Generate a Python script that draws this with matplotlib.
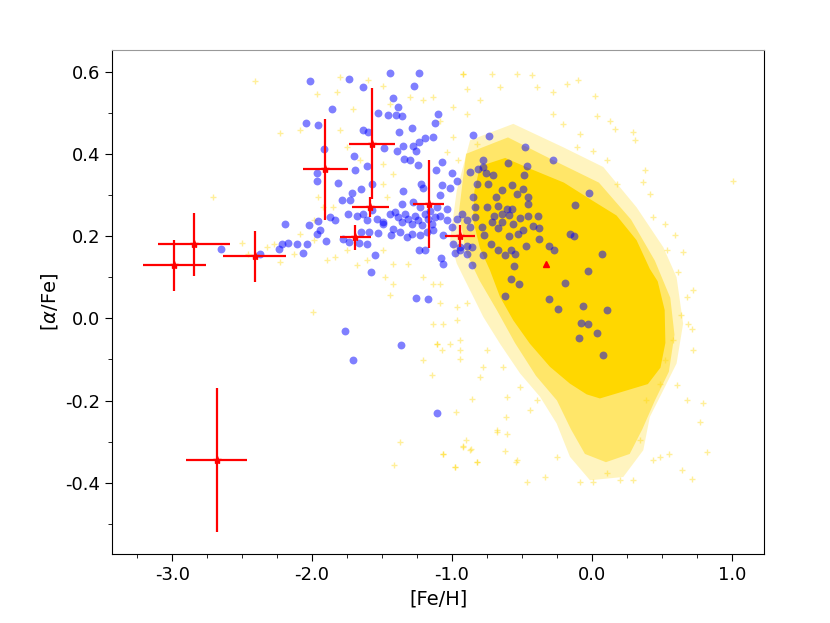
import matplotlib
matplotlib.use("Agg")
import matplotlib.pyplot as plt
import numpy as np

plt.rcParams['axes.unicode_minus'] = False

# red stars with error bars
red_feh = [-2.986, -2.843, -2.41, -1.905, -1.574, -1.583, -1.69, -1.167, -0.94, -2.681]
red_afe = [0.129, 0.180, 0.151, 0.362, 0.425, 0.271, 0.197, 0.278, 0.201, -0.345]
red_xerr = [0.225, 0.257, 0.224, 0.16, 0.163, 0.13, 0.112, 0.11, 0.107, 0.218]
red_yerr = [0.062, 0.077, 0.062, 0.122, 0.134, 0.025, 0.031, 0.107, 0.027, 0.175]

# single red triangle
tri_feh = [-0.329]
tri_afe = [0.131]

# blue sample
blue_feh = [
    -2.014, -1.733, -1.443, -1.233, -1.638, -1.269, -1.419, -1.388, -1.860, -1.526,
    -1.460, -1.400, -1.360, -1.098, -2.043, -1.957, -1.633, -1.598, -1.381, -1.288,
    -1.124, -1.193, -1.133, -1.233, -1.486, -1.395, -1.348, -1.276, -1.257, -1.074,
    -1.914, -1.698, -1.605, -1.690, -1.340, -1.300, -1.240, -1.002, -0.871, -1.964,
    -1.962, -1.812, -1.650, -1.569, -1.712, -1.729, -1.348, -1.224, -1.210, -1.086,
    -1.014, -0.848, -0.824,
    -1.788, -1.740, -1.681, -1.633, -1.610, -1.574, -1.538, -1.490, -1.443, -1.407,
    -1.383, -1.360, -1.336, -1.312, -1.288, -1.264, -1.240, -1.217, -1.193, -1.169,
    -1.145, -1.121, -1.086, -1.038, -1.002, -0.967, -0.931, -0.895, -0.871, -1.419,
    -1.371, -1.324, -1.288, -1.229, -1.181, -1.133, -1.062, -0.990, -0.943, -0.895,
    -0.860, -1.360, -1.276, -1.229, -1.157, -1.110, -1.038, -0.836, -0.836,
    -2.193, -2.019, -1.960, -1.967, -1.943, -1.900, -1.871, -1.836, -1.776, -1.733,
    -1.662, -1.610, -1.550, -1.579, -1.650, -1.590, -1.531, -1.495, -1.436, -2.371,
    -2.240, -2.217, -2.169, -2.105, -2.062, -2.033, -2.650, -1.257, -1.169, -1.764,
    -1.367, -1.233, -1.193, -1.081, -1.062, -0.979, -0.943, -1.707, -1.107,
    -0.852, -0.738, -0.476, -0.276, -0.019, -1.117, -0.967, -1.069, -0.781, -0.812,
    -0.776, -0.783, -0.769, -0.890, -0.860,
    -0.602, -0.467, -0.486, -0.757, -0.705, -0.745, -0.569, -0.495, -0.645, -0.533,
    -0.686, -0.455, -0.460, -0.752, -0.669, -0.610, -0.569, -0.700, -0.645, -0.593,
    -0.514, -0.457, -0.383, -0.717, -0.645, -0.562, -0.495, -0.419, -0.376, -0.669,
    -0.590, -0.526, -0.724, -0.379, -0.469, -0.669, -0.621, -0.581, -0.548, -0.776,
    -0.555, -0.579, -0.524, -0.621, -0.305, -0.271, -0.119, -0.155, -0.129, 0.069,
    -0.026, -0.190, -0.305, -0.240, -0.067, 0.110, -0.081, -0.026, 0.033, -0.095,
    0.081]
blue_afe = [
    0.577, 0.582, 0.597, 0.597, 0.562, 0.564, 0.535, 0.514, 0.509, 0.500,
    0.495, 0.495, 0.491, 0.497, 0.475, 0.469, 0.459, 0.453, 0.453, 0.463,
    0.474, 0.438, 0.442, 0.429, 0.414, 0.408, 0.420, 0.420, 0.408, 0.380,
    0.412, 0.394, 0.371, 0.361, 0.388, 0.384, 0.372, 0.354, 0.356, 0.353,
    0.335, 0.330, 0.315, 0.327, 0.305, 0.288, 0.309, 0.327, 0.317, 0.301,
    0.317, 0.295, 0.327,
    0.287, 0.254, 0.250, 0.254, 0.238, 0.264, 0.242, 0.234, 0.254, 0.258,
    0.246, 0.234, 0.254, 0.242, 0.230, 0.250, 0.238, 0.226, 0.254, 0.242,
    0.230, 0.246, 0.250, 0.238, 0.222, 0.242, 0.254, 0.238, 0.222, 0.218,
    0.210, 0.198, 0.206, 0.202, 0.210, 0.214, 0.202, 0.181, 0.165, 0.157,
    0.173, 0.279, 0.283, 0.271, 0.262, 0.271, 0.267, 0.271, 0.246,
    0.230, 0.228, 0.236, 0.206, 0.214, 0.187, 0.246, 0.238, 0.194, 0.186,
    0.183, 0.181, 0.153, 0.113, 0.210, 0.210, 0.207, 0.230, 0.202, 0.157,
    0.169, 0.181, 0.183, 0.180, 0.160, 0.181, 0.168, 0.050, 0.046, -0.031,
    -0.066, 0.167, 0.167, 0.147, 0.133, 0.160, 0.173, -0.102, -0.231,
    0.445, 0.443, 0.416, 0.386, 0.305, 0.360, 0.333, 0.324, 0.384, 0.362,
    0.369, 0.222, 0.203, 0.177, 0.129,
    0.377, 0.371, 0.348, 0.353, 0.349, 0.327, 0.324, 0.314, 0.313, 0.302,
    0.295, 0.295, 0.279, 0.271, 0.272, 0.267, 0.267, 0.250, 0.254, 0.252,
    0.244, 0.250, 0.248, 0.234, 0.234, 0.230, 0.214, 0.224, 0.220, 0.220,
    0.199, 0.206, 0.181, 0.192, 0.175, 0.167, 0.155, 0.165, 0.157, 0.155,
    0.126, 0.096, 0.083, 0.055, 0.177, 0.165, 0.276, 0.206, 0.199, 0.157,
    0.115, 0.085, 0.047, 0.023, 0.030, 0.021, -0.011, -0.015, -0.035, -0.047,
    -0.090]

# outlines of the yellow cloud: solid core, mid halo, outer halo
core_feh = [-0.80, -0.62, -0.45, -0.20, -0.014, 0.176, 0.319, 0.414, 0.47, 0.52,
            0.525, 0.49, 0.40, 0.224, 0.057, -0.038, -0.157, -0.300, -0.443, -0.562,
            -0.657, -0.729, -0.80, -0.85, -0.84]
core_afe = [0.37, 0.39, 0.365, 0.33, 0.29, 0.25, 0.19, 0.12, 0.09, 0.02,
            -0.06, -0.12, -0.16, -0.178, -0.195, -0.185, -0.159, -0.118, -0.062, -0.005,
            0.052, 0.117, 0.17, 0.24, 0.31]
mid_feh = [-0.9, -0.6, -0.25, 0.05, 0.28, 0.45, 0.56, 0.59, 0.55, 0.45,
           0.36, 0.27, 0.1, -0.05, -0.15, -0.25, -0.4, -0.55, -0.68, -0.80,
           -0.9, -0.95]
mid_afe = [0.40, 0.44, 0.38, 0.33, 0.24, 0.14, 0.05, -0.04, -0.13, -0.20,
           -0.27, -0.33, -0.35, -0.33, -0.27, -0.20, -0.14, -0.06, 0.02, 0.09,
           0.16, 0.26]
halo_feh = [-0.871, -0.562, -0.205, 0.081, 0.319, 0.510, 0.605, 0.652, 0.605, 0.510,
            0.414, 0.367, 0.224, -0.014, -0.157, -0.252, -0.371, -0.514, -0.657, -0.776,
            -0.871, -0.966, -1.014, -0.966]
halo_afe = [0.433, 0.473, 0.416, 0.368, 0.270, 0.173, 0.100, -0.013, -0.110, -0.175,
            -0.240, -0.321, -0.386, -0.394, -0.337, -0.256, -0.191, -0.134, -0.062, 0.003,
            0.068, 0.133, 0.190, 0.311]

# scattered yellow points outside the dense part
yel_feh = [
    -2.407, -2.229, -2.705, -1.995, -1.8, -1.598, -1.967, -1.824, -1.705, -1.49,
    -1.443, -1.3, -1.205, -0.919, -0.895, -1.8, -1.752, -1.657, -1.49, -2.086,
    -1.955, -1.919, -1.848, -1.49, -1.467, -1.419, -1.038, -0.99, -0.955, -0.895,
    -0.824, -2.502, -2.455, -2.324, -2.276, -2.229, -2.133, -2.086, -1.99, -1.99,
    -1.895, -1.836, -1.752, -1.681, -1.61, -1.49, -1.419, -1.479, -1.419, -1.312,
    -1.205, -1.133, -1.086, -1.443, -1.133, -0.967, -0.895, -0.943, -1.11,
    -1.371, -1.414, -1.062, -0.979, -0.919, -0.9, -0.867, -0.819, -0.676, -0.605,
    -0.621, -0.543,
    -1.205, -1.145, -1.062, -0.979, -0.919, -0.871, -0.824, -0.971, -0.855, -0.943,
    -1.11, -1.074, -0.681, -0.614, -0.538, -0.467, -0.336, -0.252, -0.086, 0.01,
    0.105, 0.2, 0.295, 0.438, 0.49, 0.548, 0.643, 0.714, 0.819, 0.771,
    0.795, 0.676, 0.605, 0.724, 0.712, 0.64, 0.581, 0.521, 0.486, 0.39,
    0.343, -0.395, -0.514, -0.633, -0.752, -0.8,
    1.01, -0.919, -0.717, -0.538, -0.431, -0.181, -0.098, 0.021, 0.033, 0.164,
    0.129, 0.295, 0.307, 0.379, 0.367, 0.414, 0.438, 0.521, 0.593, 0.533,
    0.652, 0.617, 0.724, 0.676, 0.688, -0.276, -0.395, -0.657, -0.8, -0.99,
    -1.086, -1.133, -0.276, -0.205, -0.086, -0.110, 0.01, 0.105, 0.176,
    -0.967, -1.062, -0.943, -0.776, -0.610, -0.443, -1.086, -1.014]
yel_afe = [
    0.576, 0.450, 0.296, 0.016, 0.588, 0.58, 0.546, 0.55, 0.51, 0.566,
    0.522, 0.538, 0.531, 0.595, 0.558, 0.457, 0.416, 0.384, 0.376, 0.458,
    0.295, 0.271, 0.271, 0.327, 0.295, 0.352, 0.404, 0.441, 0.384, 0.497,
    0.424, 0.183, 0.157, 0.173, 0.181, 0.137, 0.156, 0.206, 0.238, 0.19,
    0.141, 0.149, 0.165, 0.129, 0.141, 0.165, 0.133, 0.1, 0.084, 0.133,
    0.1, 0.084, 0.036, 0.056, -0.013, -0.005, 0.036, -0.053, -0.062,
    -0.301, -0.357, -0.329, -0.361, -0.311, -0.297, -0.319, -0.349, -0.276, -0.282,
    -0.322, -0.349,
    -0.102, -0.139, -0.329, -0.361, -0.313, -0.321, -0.349, -0.228, -0.197, -0.098,
    -0.062, -0.078, -0.272, -0.240, -0.345, -0.398, -0.386, -0.337, -0.398, -0.398,
    -0.377, -0.394, -0.394, -0.345, -0.337, -0.329, -0.369, -0.390, -0.325, -0.252,
    -0.207, -0.199, -0.163, -0.078, -0.025, 0.007, -0.053, -0.102, -0.159, -0.199,
    -0.296, -0.199, -0.167, -0.118, -0.078, -0.143,
    0.333, 0.595, 0.595, 0.595, 0.593, 0.570, 0.580, 0.540, 0.493, 0.461,
    0.481, 0.453, 0.433, 0.360, 0.331, 0.303, 0.246, 0.230, 0.202, 0.165,
    0.161, 0.113, 0.068, 0.052, -0.013, 0.550, 0.562, 0.562, 0.530, 0.514,
    0.481, 0.538, 0.497, 0.473, 0.449, 0.416, 0.408, 0.384, 0.327,
    0.028, -0.013, -0.078, -0.118, -0.191, -0.224, 0.084, -0.062]

fig = plt.figure(figsize=(8.3, 6.23), dpi=100)
ax = fig.add_axes([0.135, 0.111, 0.7855, 0.809])

ax.fill(halo_feh, halo_afe, color='gold', alpha=0.25, lw=0, zorder=1)
ax.fill(mid_feh, mid_afe, color='gold', alpha=0.45, lw=0, zorder=1)
ax.fill(core_feh, core_afe, color='gold', alpha=1.0, lw=0, zorder=1)
ax.plot(yel_feh, yel_afe, '+', color='gold', alpha=0.4, ms=5, zorder=2)

ax.scatter(blue_feh, blue_afe, s=32, color='blue', alpha=0.5, lw=0, zorder=3)

ax.errorbar(red_feh, red_afe, xerr=red_xerr, yerr=red_yerr, fmt='*', color='red',
            ms=6, elinewidth=1.6, capsize=0, zorder=4)
ax.plot(tri_feh, tri_afe, '^', color='red', ms=5, zorder=4)

ax.set_xlim(-3.43, 1.23)
ax.set_ylim(-0.573, 0.653)
ax.set_xticks([-3.0, -2.0, -1.0, 0.0, 1.0])
ax.set_xticks(np.arange(-3.25, 1.2, 0.25), minor=True)
ax.set_yticks([-0.4, -0.2, 0.0, 0.2, 0.4, 0.6])
ax.set_yticks(np.arange(-0.5, 0.65, 0.1), minor=True)
ax.xaxis.set_major_formatter(matplotlib.ticker.FormatStrFormatter('%.1f'))
ax.yaxis.set_major_formatter(matplotlib.ticker.FormatStrFormatter('%.1f'))
ax.tick_params(which='both', direction='out', top=False, right=False, labelsize=13)
ax.tick_params(which='major', length=5)
ax.tick_params(which='minor', length=3)
ax.spines['top'].set_color('#999999')

ax.set_xlabel('[Fe/H]', fontsize=14)
ax.set_ylabel(r'[$\alpha$/Fe]', fontsize=14)

fig.savefig('out.png', dpi=100)
